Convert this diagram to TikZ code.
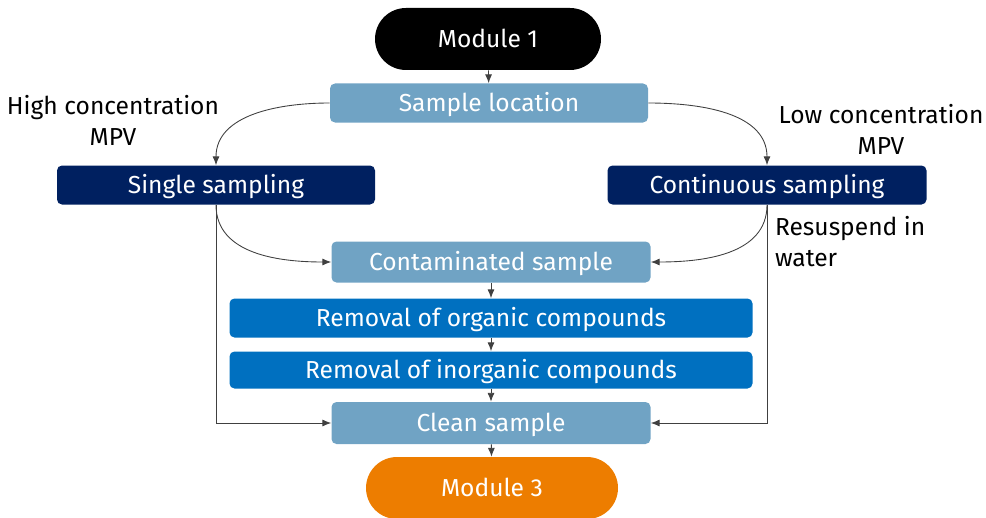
\documentclass[tikz,border=0pt]{standalone}
\usepackage{fontspec}
\setmainfont{Fira Sans}
\usetikzlibrary{arrows.meta}

\newlength{\du}
\setlength{\du}{0.02cm}

\definecolor{modulefill}{rgb}{0.000000, 0.000000, 0.000000}
\definecolor{samplefill}{rgb}{0.439216, 0.639216, 0.768627}
\definecolor{samplingfill}{rgb}{0.000000, 0.125490, 0.376471}
\definecolor{removalfill}{rgb}{0.000000, 0.439216, 0.752941}
\definecolor{endfill}{rgb}{0.929412, 0.490196, 0.000000}
\definecolor{dialinecolor}{rgb}{0.250000, 0.250000, 0.250000}

\tikzset{
  module/.style={rounded corners=31\du, minimum width=226\du, minimum height=62\du,
    inner sep=0pt, text=white, text height=10pt, text depth=0.4pt,
    font=\fontsize{14}{17}\selectfont},
  stage/.style={rounded corners=5\du, minimum height=39\du,
    inner sep=0pt, text=white, text height=10pt, text depth=0.4pt,
    font=\fontsize{14}{17}\selectfont},
  remark/.style={inner sep=0pt, outer sep=0pt, text=black, font=\fontsize{14}{17.6}\selectfont},
  link/.style={draw=dialinecolor, line width=0.5pt, -{Latex[length=5pt,width=4pt]}}
}

\begin{document}
\begin{tikzpicture}
\pgftransformxscale{1.000000}
\pgftransformyscale{-1.000000}
\useasboundingbox (0\du,0\du) rectangle (986\du,517\du);

% modules and stages
\node[module, fill=modulefill] (mod1) at (488\du,39\du) {Module 1};
\node[stage, fill=samplefill, minimum width=318\du] (location) at (489\du,103\du) {Sample location};
\node[stage, fill=samplingfill, minimum width=318\du] (single) at (216\du,185\du) {Single sampling};
\node[stage, fill=samplingfill, minimum width=319\du] (continuous) at (767\du,185\du) {Continuous sampling};
\node[stage, fill=samplefill, minimum width=319\du, minimum height=41\du] (contaminated) at (491\du,262\du) {Contaminated sample};
\node[stage, fill=removalfill, minimum width=523\du] (organic) at (491\du,318\du) {Removal of organic compounds};
\node[stage, fill=removalfill, minimum width=523\du, minimum height=37\du] (inorganic) at (491\du,370\du) {Removal of inorganic compounds};
\node[stage, fill=samplefill, minimum width=319\du, minimum height=42\du] (clean) at (491\du,423\du) {Clean sample};
\node[module, fill=endfill, minimum width=252\du] (mod3) at (492\du,488\du) {Module 3};

% side remarks
\node[remark, align=center] (high) at (113\du,120\du) {High concentration\\MPV};
\node[remark, align=center] (low) at (881\du,129\du) {Low concentration\\MPV};
\node[remark, align=left, anchor=north west] (resuspend) at (775\du,216\du) {Resuspend in\\water};

% connectors (y runs downwards, so 90 points down the page)
\draw[link] (mod1) -- (location);
\draw[link] (location.west) to[out=180, in=-90] (single.north);
\draw[link] (location.east) to[out=0, in=-90] (continuous.north);
\draw[link] (single.south) to[out=90, in=180] (contaminated.west);
\draw[link] (continuous.south) to[out=90, in=0] (contaminated.east);
\draw[link] (single.south) |- (clean.west);
\draw[link] (continuous.south) |- (clean.east);
\draw[link] (contaminated) -- (organic);
\draw[link] (organic) -- (inorganic);
\draw[link] (inorganic) -- (clean);
\draw[link] (clean) -- (mod3);
\end{tikzpicture}
\end{document}
